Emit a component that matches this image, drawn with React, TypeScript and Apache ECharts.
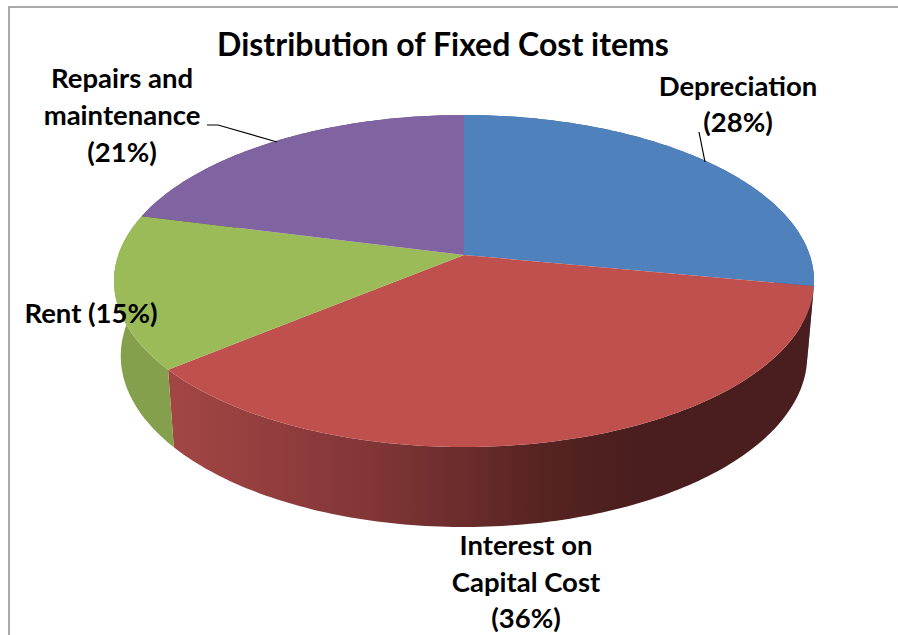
import React, { useEffect, useRef } from "react";
import * as echarts from "echarts";

const titleText = "Distribution of Fixed Cost items";
const categories = ["Depreciation", "Interest on Capital Cost", "Rent", "Repairs and maintenance"];
const values = [28, 36, 15, 21];
const labelTexts = ["Depreciation\n(28%)", "Interest on\nCapital Cost\n(36%)", "Rent (15%)", "Repairs and\nmaintenance\n(21%)"];

const topColors = ["#4f81bd", "#c0504d", "#9bbb59", "#8064a2"];
const labelPositions = [[738, 103.5], [526, 581], [91, 312], [122, 114.5]];
const leaders: number[][][] = [
  [[699, 132], [705, 162]],
  [],
  [],
  [[207, 125], [218, 125], [277, 142]],
];

const FONT = "Lato, Carlito, sans-serif";
const CX = 464;
const K = 0.1566;
const TOP = { y0: 255, rx: 345.7, ry: 161.9 };
const BOTTOM = { y0: 329, rx: 339, ry: 167 };
const total = values.reduce((a, b) => a + b, 0);

function project(theta: number, f: { y0: number; rx: number; ry: number }) {
  const u = Math.sin(theta);
  const v = -Math.cos(theta);
  const w = 1 - K * v;
  return [CX + (f.rx * u) / w, f.y0 + (f.ry * v) / w];
}

function arcPoints(a0: number, a1: number, f: { y0: number; rx: number; ry: number }) {
  const n = Math.max(4, Math.ceil(((a1 - a0) * 180) / Math.PI));
  const pts: number[][] = [];
  for (let i = 0; i <= n; i++) pts.push(project(a0 + ((a1 - a0) * i) / n, f));
  return pts;
}

function sliceAngles(index: number) {
  let before = 0;
  for (let i = 0; i < index; i++) before += values[i];
  return [(before / total) * Math.PI * 2, ((before + values[index]) / total) * Math.PI * 2];
}

function sideFill(index: number) {
  if (index === 1) {
    return new echarts.graphic.LinearGradient(174, 0, 640, 0, [
      { offset: 0, color: "#a24645" },
      { offset: 0.44, color: "#803535" },
      { offset: 0.62, color: "#6b2c2c" },
      { offset: 0.8, color: "#552322" },
      { offset: 1, color: "#4a1e1e" },
    ], true);
  }
  return ["#3b5f8c", "#4a1e1e", "#84a04d", "#5f4a79"][index];
}

export default function App() {
  const ref = useRef<HTMLDivElement>(null);
  useEffect(() => {
    document.body.style.margin = "0";
    const chart = echarts.init(ref.current!, undefined, { renderer: "svg" });
    const data = categories.map((name, i) => ({ name, value: values[i] }));
    chart.setOption({
      animation: false,
      backgroundColor: "#ffffff",
      title: {
        text: titleText,
        left: 438,
        top: 22,
        textAlign: "center",
        textStyle: { fontFamily: FONT, fontWeight: "bold", fontSize: 32, color: "#000000" },
      },
      graphic: [
        {
          type: "polyline",
          shape: { points: [[9, 635], [9, 7], [898, 7]] },
          style: { stroke: "#8f8f8f", lineWidth: 1.5, fill: "none" },
        },
      ],
      series: [
        {
          type: "custom",
          coordinateSystem: "none",
          silent: true,
          z: 1,
          data,
          renderItem: (params: any) => {
            const i = params.dataIndex;
            const [a0, a1] = sliceAngles(i);
            const points = [...arcPoints(a0, a1, TOP), ...arcPoints(a0, a1, BOTTOM).reverse()];
            return { type: "polygon", shape: { points }, style: { fill: sideFill(i) } };
          },
        },
        {
          type: "custom",
          coordinateSystem: "none",
          silent: true,
          z: 2,
          data,
          renderItem: (params: any) => {
            const i = params.dataIndex;
            const [a0, a1] = sliceAngles(i);
            const points = [[CX, TOP.y0], ...arcPoints(a0, a1, TOP)];
            return { type: "polygon", shape: { points }, style: { fill: topColors[i] } };
          },
        },
        {
          type: "custom",
          coordinateSystem: "none",
          silent: true,
          z: 3,
          data,
          renderItem: (params: any) => {
            const i = params.dataIndex;
            const children: any[] = [
              {
                type: "text",
                x: labelPositions[i][0],
                y: labelPositions[i][1],
                style: {
                  text: labelTexts[i],
                  fontFamily: FONT,
                  fontWeight: "bold",
                  fontSize: 27.5,
                  lineHeight: 36.8,
                  fill: "#000000",
                  align: "center",
                  verticalAlign: "middle",
                },
              },
            ];
            if (leaders[i].length) {
              children.push({
                type: "polyline",
                shape: { points: leaders[i] },
                style: { stroke: "#000000", lineWidth: 1.2, fill: "none" },
              });
            }
            return { type: "group", children };
          },
        },
      ],
    });
    return () => chart.dispose();
  }, []);
  return <div ref={ref} style={{ width: 898, height: 635, overflow: "hidden" }} />;
}
